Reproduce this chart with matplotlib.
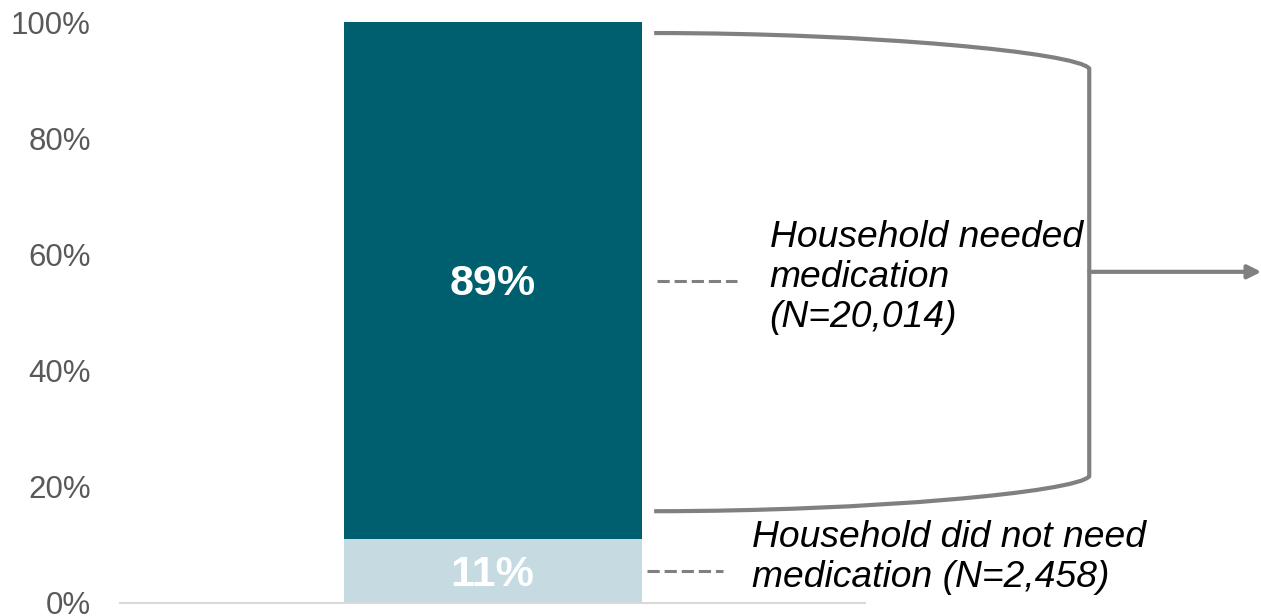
import numpy as np
import matplotlib
matplotlib.use("Agg")
import matplotlib.pyplot as plt
from matplotlib.path import Path
from matplotlib.patches import PathPatch
plt.rcParams["font.family"] = ["Liberation Sans", "DejaVu Sans"]

# stacked shares of households (percent)
segments = ["Household did not need\nmedication (N=2,458)",
            "Household needed\nmedication\n(N=20,014)"]
shares = [11, 89]
seg_colors = ["#c5dbe1", "#005f6f"]
label_colors = ["white", "white"]
yticks = [0, 20, 40, 60, 80, 100]

fig = plt.figure(figsize=(12.61, 6.16), dpi=100)
ax = fig.add_axes([120 / 1261, 13 / 616, 745 / 1261, 581 / 616])

bottoms = np.concatenate([[0], np.cumsum(shares)[:-1]])
for val, bot, col, lc in zip(shares, bottoms, seg_colors, label_colors):
    ax.bar(0, val, bottom=bot, width=0.4, color=col, linewidth=0)
    ax.text(0, bot + val / 2 - 0.6, f"{val}%", ha="center", va="center",
            color=lc, fontsize=31, fontweight="bold")

ax.set_xlim(-0.5, 0.5)
ax.set_ylim(0, 100)
ax.set_yticks(yticks)
ax.set_yticklabels([f"{t}%" for t in yticks])
ax.set_xticks([])
ax.tick_params(axis="y", length=0, pad=21, labelsize=22.5, labelcolor="#595959")
for s in ["left", "right", "top"]:
    ax.spines[s].set_visible(False)
ax.spines["bottom"].set_color("#d9d9d9")
ax.spines["bottom"].set_linewidth(1.5)

# x in axes fraction, y in data units
tr = ax.get_yaxis_transform()
grey = "#808080"

# dashed leaders and segment descriptions
lead = [(0.707, 0.809), (0.721, 0.828)]
text_x = [0.848, 0.872]
for (x0, x1), tx, val, bot, name in zip(lead, text_x, shares, bottoms, segments):
    mid = bot + val / 2
    ax.plot([x0, x1], [mid, mid], transform=tr, color=grey, lw=2.2,
            ls=(0, (4, 1.6)), clip_on=False)
    ax.text(tx, mid + (2.3 if name.count("\n") == 1 else 0.5), name,
            transform=tr, ha="left", va="center", fontsize=26.8,
            style="italic", color="black", linespacing=1.18)

# bracket around the "needed" segment
xl, xr = 0.717, 1.301
top, top_c, bot_c, bot = 98.1, 92.0, 21.8, 15.8
verts = [(xl, top), (xl + 0.5 * (xr - xl), top),
         (xl + 0.97 * (xr - xl), top - 0.55 * (top - top_c)), (xr, top_c),
         (xr, bot_c),
         (xl + 0.97 * (xr - xl), bot + 0.55 * (bot_c - bot)),
         (xl + 0.5 * (xr - xl), bot), (xl, bot)]
codes = [Path.MOVETO, Path.CURVE4, Path.CURVE4, Path.CURVE4,
         Path.LINETO, Path.CURVE4, Path.CURVE4, Path.CURVE4]
ax.add_patch(PathPatch(Path(verts, codes), transform=tr, fill=False,
                       edgecolor=grey, lw=3, clip_on=False))

ax.annotate("", xy=(1.532, 57.0), xytext=(xr, 57.0), xycoords=tr,
            textcoords=tr, annotation_clip=False,
            arrowprops=dict(arrowstyle="-|>,head_length=0.8,head_width=0.4",
                            color=grey, lw=3, shrinkA=0, shrinkB=0))

fig.savefig("out.png", dpi=100)
